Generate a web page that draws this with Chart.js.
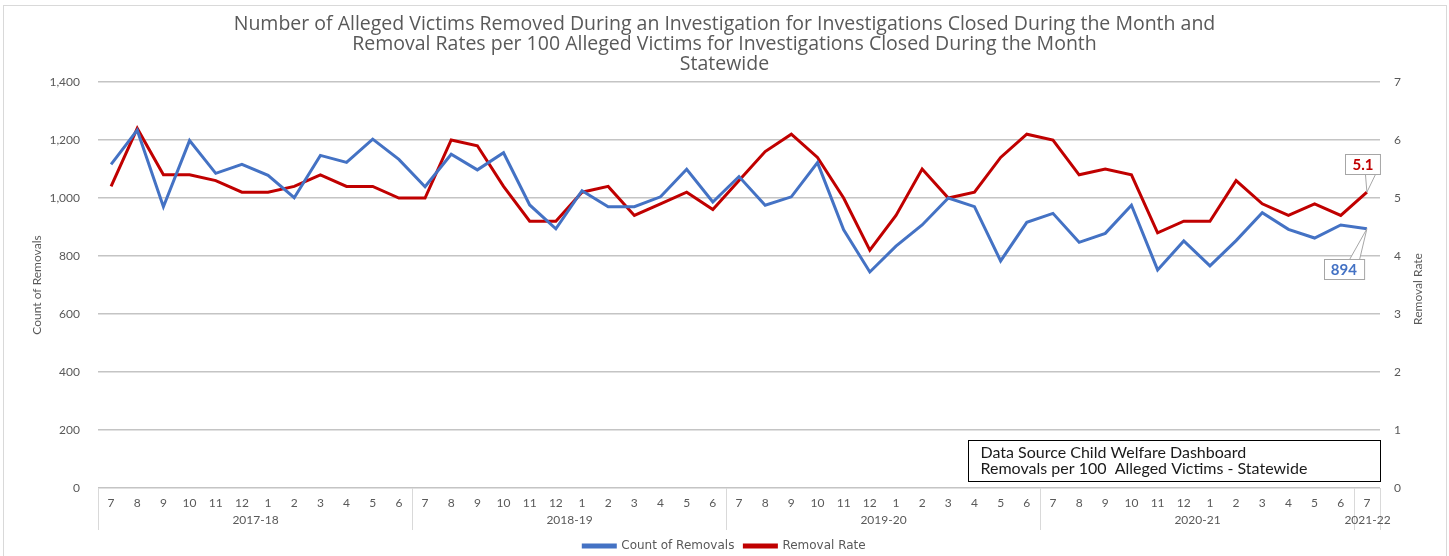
<!DOCTYPE html>
<html>
<head>
<meta charset="utf-8">
<title>Alleged Victims Removed - Statewide</title>
<script src="https://cdn.jsdelivr.net/npm/chart.js@4.4.1/dist/chart.umd.min.js"></script>
<style>
  html, body { margin: 0; padding: 0; background: #fff; }
  #wrap { position: relative; width: 1449px; height: 556px; overflow: hidden; }
  #frame { position: absolute; left: 3px; top: 5px; width: 1442px; height: 600px; border: 1px solid #d9d9d9; pointer-events: none; }
</style>
</head>
<body>
<div id="wrap">
  <canvas id="chart" width="1449" height="556"></canvas>
  <div id="frame"></div>
</div>
<script>
const titleLines = [
    'Number of Alleged Victims Removed During an Investigation for Investigations Closed During the Month and',
    'Removal Rates per 100 Alleged Victims for Investigations Closed During the Month',
    'Statewide'
];
const monthTicks = ['7', '8', '9', '10', '11', '12', '1', '2', '3', '4', '5', '6'];
const fiscalYears = ['2017-18', '2018-19', '2019-20', '2020-21', '2021-22'];
const monthsPerYear = [12, 12, 12, 12, 1];

// Count of Removals
const removals = [
    1116, 1234, 970, 1198, 1085, 1116, 1078, 1001, 1147, 1123, 1203, 1133,
    1039, 1151, 1097, 1156, 976, 894, 1025, 970, 970, 1004, 1099, 986,
    1074, 975, 1004, 1122, 890, 745, 834, 907, 1000, 970, 783, 916,
    947, 847, 878, 975, 752, 852, 766, 853, 949, 892, 862, 907,
    894
];
// Removal Rate per 100 alleged victims
const rates = [
    5.2, 6.2, 5.4, 5.4, 5.3, 5.1, 5.1, 5.2, 5.4, 5.2, 5.2, 5.0,
    5.0, 6.0, 5.9, 5.2, 4.6, 4.6, 5.1, 5.2, 4.7, 4.9, 5.1, 4.8,
    5.3, 5.8, 6.1, 5.7, 5.0, 4.1, 4.7, 5.5, 5.0, 5.1, 5.7, 6.1,
    6.0, 5.4, 5.5, 5.4, 4.4, 4.6, 4.6, 5.3, 4.9, 4.7, 4.9, 4.7,
    5.1
];
const sourceNote = [
    'Data Source Child Welfare Dashboard',
    'Removals per 100  Alleged Victims - Statewide'
];

const BLUE = '#4472C4';
const RED = '#C00000';
const GREY_TEXT = '#595959';
const FONT = 'Lato, "Open Sans", sans-serif';

// month labels for every fiscal year
const categories = [];
monthsPerYear.forEach(n => {
    for (let i = 0; i < n; i++) categories.push(monthTicks[i]);
});

// year group labels + separators under the month row
const yearGroups = {
    id: 'yearGroups',
    afterDraw(chart) {
        const { ctx, chartArea, scales: { x } } = chart;
        const step = x.getPixelForValue(1) - x.getPixelForValue(0);
        const top = chartArea.bottom;
        const bottom = chartArea.bottom + 42;
        let start = 0;
        ctx.save();
        ctx.strokeStyle = '#d9d9d9';
        ctx.lineWidth = 1;
        ctx.fillStyle = GREY_TEXT;
        ctx.font = '12px ' + FONT;
        ctx.textAlign = 'center';
        ctx.textBaseline = 'middle';
        fiscalYears.forEach((fy, i) => {
            const n = monthsPerYear[i];
            const left = Math.round(x.getPixelForValue(start) - step / 2) + 0.5;
            const right = Math.round(x.getPixelForValue(start + n - 1) + step / 2) + 0.5;
            ctx.beginPath();
            ctx.moveTo(left, top); ctx.lineTo(left, bottom);
            ctx.moveTo(right, top); ctx.lineTo(right, bottom);
            ctx.stroke();
            ctx.fillText(fy, (left + right) / 2, top + 32);
            start += n;
        });
        ctx.restore();
    }
};

// callouts on the last point of each series
function drawCallout(chart, dsIndex, text, color, dx, dy) {
    const { ctx } = chart;
    const meta = chart.getDatasetMeta(dsIndex);
    const pt = meta.data[meta.data.length - 1];
    ctx.save();
    ctx.font = 'bold 15px ' + FONT;
    const w = ctx.measureText(text).width + 14;
    const h = 20;
    const cx = pt.x + dx, cy = pt.y + dy;
    const bx = Math.round(cx - w / 2) + 0.5, by = Math.round(cy - h / 2) + 0.5;
    const edgeY = dy < 0 ? by + h : by;
    ctx.strokeStyle = '#a6a6a6';
    ctx.lineWidth = 1;
    ctx.fillStyle = '#fff';
    ctx.beginPath();
    ctx.moveTo(pt.x, pt.y);
    ctx.lineTo(bx + w - 15, edgeY);
    ctx.lineTo(bx + w - 5, edgeY);
    ctx.closePath();
    ctx.fill();
    ctx.stroke();
    ctx.fillRect(bx, by, w, h);
    ctx.strokeRect(bx, by, w, h);
    ctx.fillStyle = color;
    ctx.textAlign = 'center';
    ctx.textBaseline = 'middle';
    ctx.fillText(text, cx, cy + 1);
    ctx.restore();
}

const lastLabels = {
    id: 'lastLabels',
    afterDatasetsDraw(chart) {
        const last = categories.length - 1;
        drawCallout(chart, 0, String(removals[last]), BLUE, -23, 40);
        drawCallout(chart, 1, rates[last].toFixed(1), RED, -4, -28);
    }
};

// source note box + right axis title (reads bottom to top)
const notes = {
    id: 'notes',
    afterDraw(chart) {
        const { ctx, chartArea } = chart;
        ctx.save();
        const w = 412, h = 41;
        const left = Math.round(chartArea.right - w) + 0.5;
        const top = Math.round(chartArea.bottom - 48) + 0.5;
        ctx.fillStyle = '#fff';
        ctx.fillRect(left, top, w, h);
        ctx.strokeStyle = '#000';
        ctx.lineWidth = 1;
        ctx.strokeRect(left, top, w, h);
        ctx.fillStyle = '#1a1a1a';
        ctx.font = '16px ' + FONT;
        ctx.textBaseline = 'middle';
        sourceNote.forEach((line, i) => ctx.fillText(line, left + 12, top + 12 + i * 16));

        ctx.translate(1418, (chartArea.top + chartArea.bottom) / 2 + 4);
        ctx.rotate(-Math.PI / 2);
        ctx.fillStyle = GREY_TEXT;
        ctx.font = '12px ' + FONT;
        ctx.textAlign = 'center';
        ctx.textBaseline = 'middle';
        ctx.fillText('Removal Rate', 0, 0);
        ctx.restore();
    }
};

new Chart(document.getElementById('chart').getContext('2d'), {
    type: 'line',
    data: {
        labels: categories,
        datasets: [{
            label: 'Count of Removals',
            data: removals,
            borderColor: BLUE,
            backgroundColor: BLUE,
            borderWidth: 3,
            pointRadius: 0,
            tension: 0,
            yAxisID: 'y'
        }, {
            label: 'Removal Rate',
            data: rates,
            borderColor: RED,
            backgroundColor: RED,
            borderWidth: 3,
            pointRadius: 0,
            tension: 0,
            yAxisID: 'y1'
        }]
    },
    options: {
        responsive: false,
        animation: false,
        layout: { padding: { left: 0, right: 0, top: 0, bottom: -6 } },
        scales: {
            x: {
                offset: true,
                grid: { display: false },
                border: { display: false },
                ticks: { color: GREY_TEXT, font: { size: 12, family: FONT }, padding: 0, autoSkip: false, maxRotation: 0 },
                afterFit: s => { s.height = 42; }
            },
            y: {
                min: 0, max: 1400,
                position: 'left',
                grid: { color: '#c4c4c4', lineWidth: 1.5, drawTicks: false },
                border: { display: false },
                ticks: {
                    stepSize: 200, padding: 18, color: GREY_TEXT, font: { size: 12, family: FONT },
                    callback: v => v.toLocaleString('en-US')
                },
                title: { display: true, text: 'Count of Removals', color: GREY_TEXT, font: { size: 12, family: FONT }, padding: { top: 30, bottom: 0 } },
                afterFit: s => { s.width = 98; }
            },
            y1: {
                min: 0, max: 7,
                position: 'right',
                grid: { drawOnChartArea: false, drawTicks: false },
                border: { display: false },
                ticks: { stepSize: 1, padding: 14, color: GREY_TEXT, font: { size: 12, family: FONT } },
                afterFit: s => { s.width = 69; }
            }
        },
        plugins: {
            title: {
                display: true,
                text: titleLines,
                color: GREY_TEXT,
                font: { size: 19.5, family: '"Open Sans", Lato, sans-serif', weight: 'normal', lineHeight: '20px' },
                padding: { top: 14, bottom: 8 }
            },
            legend: {
                position: 'bottom',
                labels: {
                    color: GREY_TEXT,
                    font: { size: 12, family: '"DejaVu Sans", sans-serif' },
                    boxWidth: 32,
                    boxHeight: 2,
                    padding: 10
                }
            },
            tooltip: { enabled: false }
        }
    },
    plugins: [yearGroups, lastLabels, notes]
});
</script>
</body>
</html>
